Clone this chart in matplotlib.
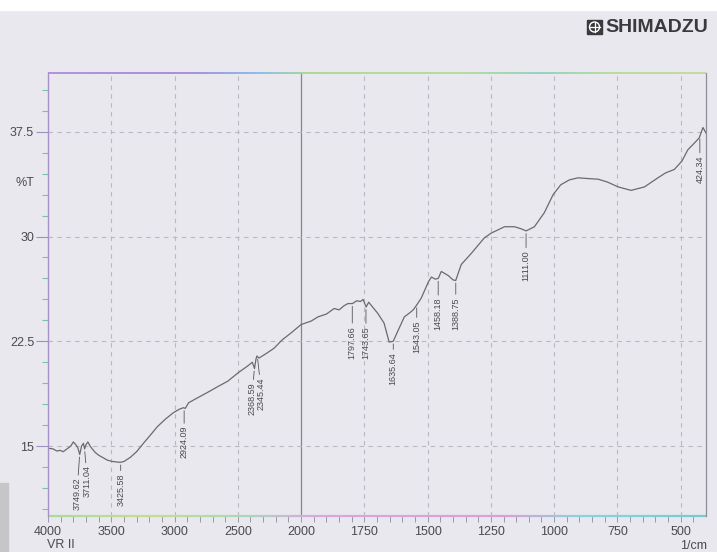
import numpy as np
import matplotlib
matplotlib.use("Agg")
import matplotlib.pyplot as plt
from matplotlib.collections import LineCollection
from matplotlib.colors import LinearSegmentedColormap
from matplotlib.patches import Rectangle, Circle

plt.rcParams['font.family'] = ['Liberation Sans Narrow', 'Liberation Sans', 'DejaVu Sans']

# IR spectrum, wavenumber (1/cm) vs transmittance (%T)
wavenumber = [4000, 3960, 3930, 3905, 3880, 3850, 3820, 3800, 3780, 3765, 3749, 3735,
              3720, 3711, 3700, 3685, 3667, 3650, 3627, 3600, 3560, 3532, 3490, 3444,
              3425, 3400, 3349, 3300, 3246, 3190, 3135, 3070, 3008, 2960, 2929, 2915,
              2889, 2820, 2738, 2660, 2579, 2490, 2420, 2385, 2368, 2357, 2349, 2333,
              2280, 2214, 2150, 2079, 2000, 1960, 1933, 1900, 1869, 1850, 1830, 1815,
              1797, 1780, 1765, 1755, 1743, 1733, 1715, 1697, 1672, 1652, 1636, 1616,
              1592, 1570, 1557, 1543, 1525, 1497, 1485, 1470, 1458, 1446, 1418, 1400,
              1389, 1367, 1327, 1276, 1248, 1196, 1157, 1130, 1111, 1078, 1039, 1004,
              974, 940, 906, 870, 826, 790, 747, 696, 643, 590, 560, 525, 495, 472,
              440, 427, 412, 400]
transmittance = [14.85, 14.8, 14.65, 14.7, 14.6, 14.8, 15.0, 15.3, 15.1, 14.9, 14.4, 15.0,
                 15.2, 14.8, 15.1, 15.3, 15.0, 14.8, 14.55, 14.35, 14.15, 14.0, 13.9, 13.85,
                 13.85, 13.9, 14.2, 14.6, 15.2, 15.8, 16.4, 16.95, 17.4, 17.65, 17.75, 17.7,
                 18.1, 18.45, 18.85, 19.25, 19.65, 20.3, 20.75, 21.0, 20.55, 21.2, 21.45, 21.3,
                 21.6, 22.0, 22.6, 23.1, 23.7, 23.95, 24.25, 24.45, 24.85, 24.75, 25.05, 25.2,
                 25.2, 25.4, 25.35, 25.5, 24.95, 25.3, 24.9, 24.5, 23.8, 22.45, 22.5, 23.3,
                 24.25, 24.55, 24.75, 25.1, 25.6, 26.75, 27.1, 26.95, 27.0, 27.5, 27.2, 26.9,
                 26.85, 28.0, 28.8, 29.9, 30.25, 30.7, 30.7, 30.55, 30.4, 30.7, 31.7, 33.0,
                 33.7, 34.05, 34.2, 34.15, 34.1, 33.9, 33.55, 33.3, 33.55, 34.2, 34.55, 34.8,
                 35.4, 36.2, 36.8, 37.05, 37.8, 37.4]

peak_labels = ['3749.62', '3711.04', '3425.58', '2924.09', '2368.59', '2345.44',
               '1797.66', '1743.65', '1635.64', '1543.05', '1458.18', '1388.75',
               '1111.00', '424.34']
# where each peak label hangs relative to its point on the curve (points)
label_drop = [17, 12, 8, 13, 10, 15, 16, 14, 8, 11, 14, 12, 14, 14]
label_dx = [-2, 2, 0, 0, -2, 3, 0, 0, 0, 0, 0, 0, 0, 0]

ytick_vals = [15, 22.5, 30, 37.5]
xtick_vals = [4000, 3500, 3000, 2500, 2000, 1750, 1500, 1250, 1000, 750, 500]

bg = '#e9e8ef'
ink = '#4a4a4e'


# below 2000 1/cm the chart uses double the scale
def fwd(w):
    w = np.asarray(w, dtype=float)
    return np.where(w >= 2000, w, 2 * w - 2000)


def inv(u):
    u = np.asarray(u, dtype=float)
    return np.where(u >= 2000, u, (u + 2000) / 2)


fig = plt.figure(figsize=(7.17, 5.52), dpi=100)
fig.patch.set_facecolor(bg)
fig.add_artist(Rectangle((0, 1 - 10 / 552), 1, 10 / 552, transform=fig.transFigure,
                         color='white', zorder=0))
fig.add_artist(Rectangle((0, 0), 8 / 717, 69 / 552, transform=fig.transFigure,
                         color='#c6c6c8', zorder=0))

ax = fig.add_axes([48 / 717, 36 / 552, 658 / 717, 443 / 552])
ax.set_facecolor(bg)
ax.set_xscale('function', functions=(fwd, inv))
ax.set_xlim(4000, 400)
ax.set_ylim(10, 41.7)

# grid
for x in xtick_vals:
    if x == 2000:
        ax.axvline(x, color='#85858c', lw=0.9, zorder=1)
    else:
        ax.axvline(x, color='#b9b9c2', lw=0.8, ls=(0, (4, 4)), zorder=1)
for y in ytick_vals:
    ax.axhline(y, color='#b9b9c2', lw=0.8, ls=(0, (4, 4)), zorder=1)

ax.plot(wavenumber, transmittance, color='#6a6a6e', lw=0.9, zorder=3)

# peak annotations
wn_asc = np.array(wavenumber[::-1])
t_asc = np.array(transmittance[::-1])
for lab, drop, dx in zip(peak_labels, label_drop, label_dx):
    w = float(lab)
    t = np.interp(w, wn_asc, t_asc)
    ax.annotate(lab, xy=(w, t), xytext=(dx, -drop), textcoords='offset points',
                rotation=90, ha='center', va='top', fontsize=6.5, color=ink,
                arrowprops=dict(arrowstyle='-', color='#55555a', lw=0.6,
                                shrinkA=0, shrinkB=2), zorder=4)

# ticks
ax.set_yticks(ytick_vals)
ax.set_yticklabels(['15', '22.5', '30', '37.5'])
ax.set_yticks(np.arange(10.5, 41.0, 1.5), minor=True)
ax.tick_params(axis='y', which='major', length=9, width=0.8, color='#a090c0',
               labelsize=9, labelcolor=ink, pad=1)
ax.tick_params(axis='y', which='minor', length=4, width=0.8, color='#7cc0a8')
ax.set_xticks(xtick_vals)
ax.set_xticklabels([str(v) for v in xtick_vals])
minor_x = list(range(3900, 2000, -100)) + list(range(1950, 400, -50))
ax.set_xticks(minor_x, minor=True)
ax.tick_params(axis='x', which='both', length=4, width=0.7, color='#9a9aa6',
               direction='out', labelsize=9, labelcolor=ink, pad=3)

# frame with colored top/bottom edges
for s in ax.spines.values():
    s.set_visible(False)


def edge(y, stops, lw):
    cmap = LinearSegmentedColormap.from_list('edge', stops)
    xs = np.linspace(0, 1, 300)
    segs = [[(xs[i], y), (xs[i + 1], y)] for i in range(len(xs) - 1)]
    lc = LineCollection(segs, colors=cmap(xs[:-1]), linewidths=lw,
                        transform=ax.transAxes, clip_on=False, zorder=5)
    ax.add_collection(lc)


edge(1.0, [(0.0, '#b490dc'), (0.22, '#a88ee0'), (0.32, '#88c0e8'),
           (0.40, '#b0d890'), (0.62, '#b8dc9c'), (0.75, '#90d4c0'),
           (0.85, '#b8dc9c'), (1.0, '#c0dca0')], 1.4)
edge(0.0, [(0.0, '#a8dc9c'), (0.15, '#c8dc90'), (0.30, '#a8d8b8'),
           (0.40, '#d8a8e0'), (0.70, '#d8a0d8'), (0.82, '#88d4e0'),
           (1.0, '#70ccd0')], 1.6)
ax.plot([0, 0], [0, 1], transform=ax.transAxes, color='#a890c8', lw=1.0,
        clip_on=False, zorder=5)
ax.plot([1, 1], [0, 1], transform=ax.transAxes, color='#8e8e96', lw=0.9,
        clip_on=False, zorder=5)

fig.text(25 / 717, 1 - 183 / 552, '%T', ha='center', va='center', fontsize=9, color=ink)
fig.text(47 / 717, 1 - 545 / 552, 'VR II', ha='left', va='center', fontsize=9, color=ink)
fig.text(707 / 717, 1 - 546 / 552, '1/cm', ha='right', va='center', fontsize=9, color=ink)

# SHIMADZU logo
fig.add_artist(Rectangle((587 / 717, 1 - 34 / 552), 15 / 717, 14 / 552,
                         transform=fig.transFigure, color='#3a3a3c', zorder=5))
fig.add_artist(Circle((594.5, 552 - 27), 5, transform=None, fill=False,
                      ec='white', lw=1.0, zorder=6))
fig.add_artist(plt.Line2D([594.5 / 717] * 2, [1 - 32 / 552, 1 - 22 / 552],
                          transform=fig.transFigure, color='white', lw=0.9, zorder=6))
fig.add_artist(plt.Line2D([589.5 / 717, 599.5 / 717], [1 - 27 / 552] * 2,
                          transform=fig.transFigure, color='white', lw=0.9, zorder=6))
fig.text(605 / 717, 1 - 27 / 552, 'SHIMADZU', ha='left', va='center', fontsize=14,
         fontweight='bold', color='#3a3a3c', family=['Liberation Sans', 'DejaVu Sans'])

fig.savefig('out.png', dpi=100, facecolor=bg)
